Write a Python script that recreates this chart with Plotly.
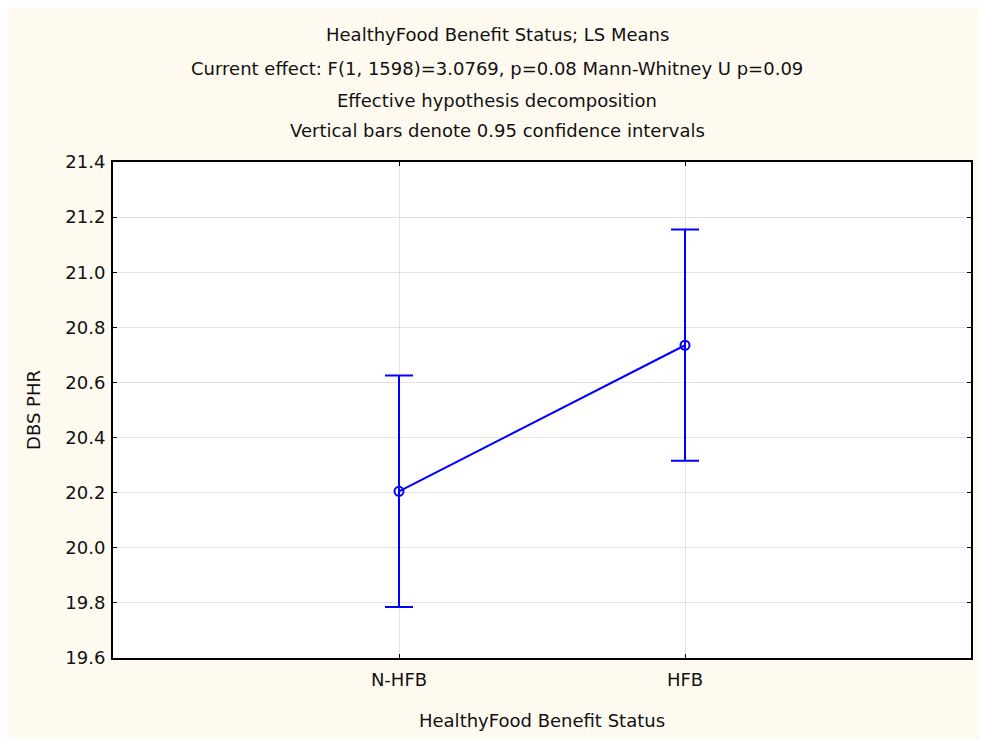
import plotly.graph_objects as go

categories = ["N-HFB", "HFB"]
ls_means = [20.205, 20.735]
ci_upper = [20.625, 21.155]
ci_lower = [19.785, 20.316]
y_ticks = [19.6, 19.8, 20.0, 20.2, 20.4, 20.6, 20.8, 21.0, 21.2, 21.4]
title_lines = [
    "HealthyFood Benefit Status; LS Means",
    "Current effect: F(1, 1598)=3.0769, p=0.08 Mann-Whitney U p=0.09",
    "Effective hypothesis decomposition",
    "Vertical bars denote 0.95 confidence intervals",
]
x_title = "HealthyFood Benefit Status"
y_title = "DBS PHR"

err_plus = [u - m for u, m in zip(ci_upper, ls_means)]
err_minus = [m - l for m, l in zip(ls_means, ci_lower)]

FONT = "DejaVu Sans, Arial, sans-serif"
FS = 18
TXT = "#111111"
BLUE = "#0000FF"
CREAM = "#FFFAF0"

fig = go.Figure()
fig.add_trace(go.Scatter(
    x=categories, y=ls_means,
    mode="lines+markers",
    line=dict(color=BLUE, width=2),
    marker=dict(symbol="circle-open", size=9, color=BLUE, line=dict(width=2, color=BLUE)),
    error_y=dict(type="data", array=err_plus, arrayminus=err_minus, symmetric=False,
                 color=BLUE, thickness=2, width=14),
    showlegend=False,
))

W, H = 981, 740
L, R, T, B = 113, 8, 162, 82
pw, ph = W - L - R, H - T - B

def px_x(x):
    return (x - L) / pw

def px_y(y):
    return (H - B - y) / ph

# cream background panel, white plotting area on top of it
fig.add_shape(type="rect", xref="paper", yref="paper",
              x0=px_x(7), x1=px_x(981), y0=px_y(739), y1=px_y(7),
              fillcolor=CREAM, line=dict(width=0), layer="below")
fig.add_shape(type="rect", xref="paper", yref="paper",
              x0=0, x1=1, y0=0, y1=1,
              fillcolor="white", line=dict(width=0), layer="below")

title_y = [34, 68, 100, 130]
for txt, yy in zip(title_lines, title_y):
    fig.add_annotation(text=txt, xref="paper", yref="paper",
                       x=px_x(498), y=px_y(yy), xanchor="center", yanchor="middle",
                       showarrow=False, font=dict(family=FONT, size=FS, color=TXT))

axis_common = dict(
    showline=True, linecolor="black", linewidth=2, mirror="ticks",
    ticks="inside", ticklen=4, tickwidth=1, tickcolor="black",
    showgrid=True, gridcolor="#E3E3E3", gridwidth=1,
    zeroline=False,
    tickfont=dict(family=FONT, size=FS, color=TXT),
)

fig.update_layout(
    width=W, height=H,
    margin=dict(l=L, r=R, t=T, b=B, pad=0),
    paper_bgcolor="white",
    plot_bgcolor="white",
    xaxis=dict(type="category", range=[-1, 2], categoryorder="array", categoryarray=categories,
               ticklabelstandoff=4,
               title=dict(text=x_title, font=dict(family=FONT, size=FS, color=TXT), standoff=26),
               **axis_common),
    yaxis=dict(range=[19.6, 21.4], tickvals=y_ticks, ticktext=[f"{v:.1f}" for v in y_ticks],
               ticklabelstandoff=2,
               title=dict(text=y_title, font=dict(family=FONT, size=FS, color=TXT), standoff=20),
               **axis_common),
)

fig.write_html("out.html")
